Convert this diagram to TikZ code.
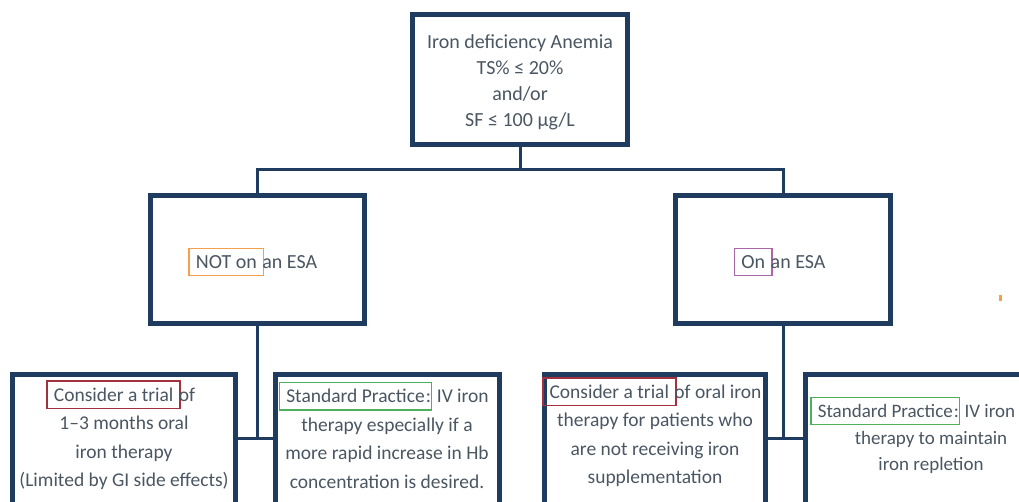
\documentclass[tikz,border=0pt]{standalone}
\usepackage{fontspec}
\setmainfont{Carlito}
\definecolor{navy}{HTML}{1F3B60}
\definecolor{txt}{HTML}{4A5662}
\definecolor{hlred}{HTML}{A3303F}
\definecolor{hlgreen}{HTML}{4DB05A}
\definecolor{hlorange}{HTML}{F2A04E}
\definecolor{hlpurple}{HTML}{A865A8}
\newcommand\hlbox[2]{\smash{\setlength{\fboxsep}{6pt}\setlength{\fboxrule}{1.5pt}\kern-6.5pt\textcolor{#1}{\fbox{\textcolor{txt}{#2}}}\kern-6.5pt}}
\tikzset{
  box/.style={draw=navy, line width=5pt, rectangle, fill=white, inner sep=0pt},
  conn/.style={draw=navy, line width=3pt},
  txt/.style={text=txt, align=center, inner sep=0pt, font=\fontsize{20}{26}\selectfont},
  btxt/.style={text=txt, align=center, inner sep=0pt, font=\fontsize{19.5}{28.5}\selectfont},
}
\begin{document}
\begin{tikzpicture}[x=1pt,y=-1pt]
\useasboundingbox (0,0) rectangle (1019,502);
\clip (0,0) rectangle (1019,502);
% boxes
\node[box, minimum width=215pt, minimum height=130pt] (top) at (520,79.5) {};
\node[box, minimum width=214pt, minimum height=128pt] (L) at (257.5,259.5) {};
\node[box, minimum width=215pt, minimum height=128pt] (R) at (783,259.5) {};
\node[box, minimum width=223pt, minimum height=145pt] (B1) at (124,447) {};
\node[box, minimum width=224pt, minimum height=145pt] (B2) at (387.5,447) {};
\node[box, minimum width=221pt, minimum height=145pt] (B3) at (655,447) {};
\node[box, minimum width=254pt, minimum height=145pt] (B4) at (932.75,447) {};
% connectors
\coordinate (j0) at (520,170);
\coordinate (jL) at (257.5,438);
\coordinate (jR) at (783,438);
\draw[conn] (top.south) -- (j0);
\draw[conn] (L.north) |- (j0) -| (R.north);
\draw[conn] (L.south) -- (jL);
\draw[conn] (R.south) -- (jR);
\draw[conn] (B1.east |- jL) -- (B2.west |- jL);
\draw[conn] (B3.east |- jR) -- (B4.west |- jR);
% texts
\node[txt] (ttop) at (520,82) {Iron deficiency Anemia\\TS\% ≤ 20\%\\and/or\\SF ≤ 100 μg/L};
\node[txt] (tL) at (256,262) {\hlbox{hlorange}{NOT on} an ESA};
\node[txt] (tR) at (783,262) {\hlbox{hlpurple}{On} an ESA};
\node[btxt] (t1) at (124,439) {\hlbox{hlred}{Consider a trial} of\\1--3 months oral\\iron therapy\\(Limited by GI side effects)};
\node[btxt] (t2) at (387,439) {\hlbox{hlgreen}{Standard Practice}: IV iron\\therapy especially if a\\more rapid increase in Hb\\concentration is desired.};
\node[btxt] (t3) at (655,436) {\hlbox{hlred}{Consider a trial} of oral iron\\therapy for patients who\\are not receiving iron\\supplementation};
\node[btxt, font=\fontsize{19}{26.5}\selectfont] (t4) at (916,439) {\hlbox{hlgreen}{Standard Practice}: IV iron\\\hspace*{30pt}therapy to maintain\\\hspace*{30pt}iron repletion};
% stray mark
\fill[hlorange] (999,295) rectangle (1002,301);
\end{tikzpicture}
\end{document}
